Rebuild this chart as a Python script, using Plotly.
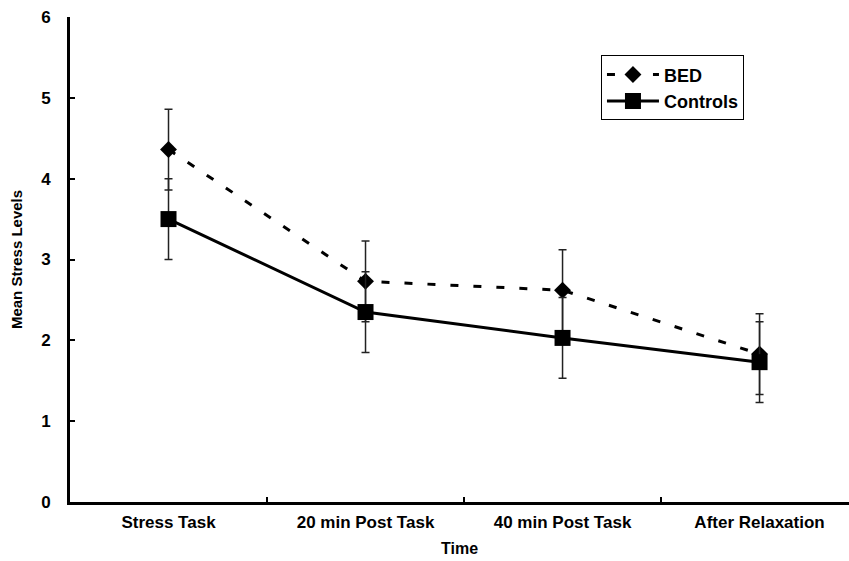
import plotly.graph_objects as go

categories = ["Stress Task", "20 min Post Task", "40 min Post Task", "After Relaxation"]
bed_values = [4.36, 2.73, 2.62, 1.83]
bed_errors = [0.5, 0.5, 0.5, 0.5]
control_values = [3.50, 2.35, 2.03, 1.73]
control_errors = [0.5, 0.5, 0.5, 0.5]
y_ticks = [0, 1, 2, 3, 4, 5, 6]

FONT = "Arial, Liberation Sans, sans-serif"

fig = go.Figure()
fig.add_trace(go.Scatter(
    x=categories, y=bed_values, name="BED", mode="lines+markers",
    line=dict(color="black", width=3, dash="8px,15px"),
    marker=dict(symbol="diamond", size=13, color="black"),
    error_y=dict(type="data", array=bed_errors, visible=True,
                 color="#222222", thickness=1.5, width=4),
))
fig.add_trace(go.Scatter(
    x=categories, y=control_values, name="Controls", mode="lines+markers",
    line=dict(color="black", width=3),
    marker=dict(symbol="square", size=16, color="black"),
    error_y=dict(type="data", array=control_errors, visible=True,
                 color="#222222", thickness=1.5, width=4),
))

fig.update_layout(
    width=849, height=561,
    margin=dict(l=70, r=0, t=17, b=59),
    paper_bgcolor="white", plot_bgcolor="white",
    font=dict(family=FONT, color="black", size=15, weight="bold"),
    showlegend=True,
    legend=dict(
        x=0.6816, y=0.921, xanchor="left", yanchor="top",
        bgcolor="white", bordercolor="black", borderwidth=1,
        font=dict(family=FONT, size=18, weight="bold"),
        itemwidth=52, tracegroupgap=0,
    ),
    xaxis=dict(
        type="category", range=[-0.5, 3.454], automargin=False,
        tickson="boundaries", ticks="inside", ticklen=5, tickwidth=2, tickcolor="black",
        showline=True, linecolor="black", linewidth=3, showgrid=False, zeroline=False,
        tickfont=dict(family=FONT, size=17, weight="bold"),
        ticklabelstandoff=3,
        title=dict(text="Time", font=dict(family=FONT, size=16, weight="bold"), standoff=12),
    ),
    yaxis=dict(
        range=[0, 6], tickvals=y_ticks, automargin=False,
        ticks="inside", ticklen=5, tickwidth=2, tickcolor="black",
        showline=True, linecolor="black", linewidth=3, showgrid=False, zeroline=False,
        tickfont=dict(family=FONT, size=17, weight="bold"),
        ticklabelstandoff=13,
        title=dict(text="Mean Stress Levels", font=dict(family=FONT, size=15, weight="bold"), standoff=15),
    ),
)

fig.write_html(
    "out.html",
    config={"displayModeBar": False},
    post_script="document.body.style.margin='0';document.body.style.padding='0';",
)
